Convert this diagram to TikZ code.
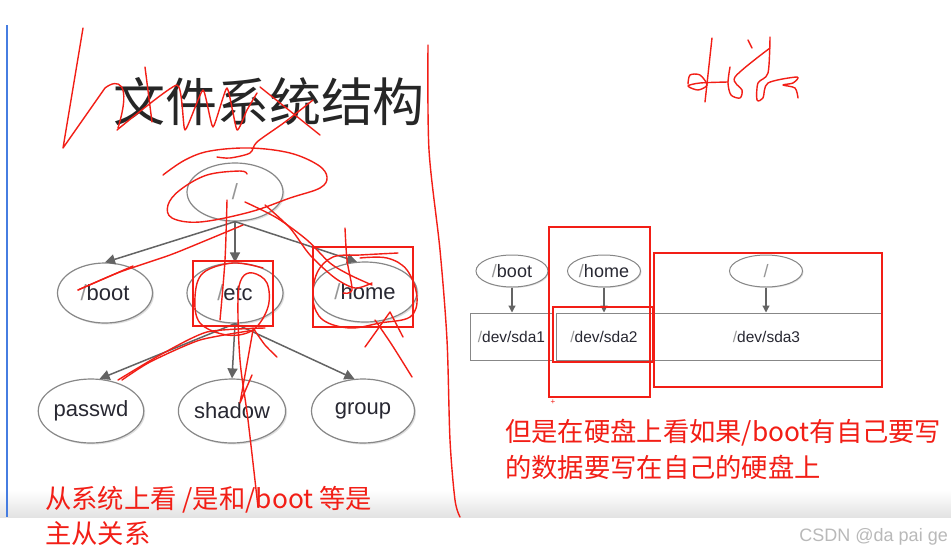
\documentclass[tikz,border=0pt]{standalone}
\usepackage{fontspec}
\setmainfont{Liberation Sans}
\newfontfamily\cjk{Noto Sans CJK SC}
\usetikzlibrary{arrows.meta, shapes.geometric, shadows}

\definecolor{inkred}{RGB}{242,30,22}
\definecolor{edgegray}{RGB}{135,135,135}
\definecolor{arrowgray}{RGB}{100,100,100}
\definecolor{labelgray}{RGB}{40,40,50}
\definecolor{slashgray}{RGB}{150,150,150}
\definecolor{rulerblue}{RGB}{70,125,225}

\newcommand{\dirslash}{{\color{slashgray}/}}

\begin{document}
\begin{tikzpicture}[
    % GLOBAL CFG (one unit = one pixel of the screenshot)
    x=1pt, y=-1pt,
    % Styles
    dir/.style={% For the directory tree
        ellipse,
        draw=edgegray,
        line width=1.2pt,
        fill=white,
        drop shadow={opacity=.25, shadow xshift=1.5pt, shadow yshift=-1.5pt},
        minimum width=96pt,
        minimum height=60pt,
        inner sep=0pt,
        text=labelgray,
        font=\fontsize{22}{22}\selectfont,
        },
    mnt/.style={% For mount points
        ellipse,
        draw=edgegray,
        line width=1pt,
        fill=white,
        drop shadow={opacity=.25, shadow xshift=1pt, shadow yshift=-1pt},
        minimum width=73pt,
        minimum height=32pt,
        inner sep=0pt,
        text=labelgray,
        font=\fontsize{18}{18}\selectfont,
        },
    part/.style={% For partitions
        rectangle,
        draw=edgegray,
        line width=1pt,
        minimum height=47pt,
        inner sep=0pt,
        text=labelgray,
        font=\fontsize{15.5}{15.5}\selectfont,
        },
    link/.style={% tree arrows
        -{Triangle[width=10pt,length=10pt]},
        arrowgray,
        line width=1.5pt,
        },
    linksmall/.style={% mount arrows
        -{Triangle[width=7pt,length=7pt]},
        arrowgray,
        line width=1.2pt,
        },
    ink/.style={% hand drawn red strokes
        inkred,
        line width=1.4pt,
        line cap=round,
        line join=round,
        },
    note/.style={% red comments
        text=inkred,
        anchor=west,
        inner sep=0pt,
        font=\cjk\fontsize{26.3}{26.3}\selectfont,
        },
    ]

    \useasboundingbox (0,0) rectangle (951,555);
    \fill[white] (0,0) rectangle (951,555);

    % bottom band and left rule
    \shade[top color=white, bottom color=gray!22] (0,490) rectangle (951,517);
    \draw[rulerblue, line width=1.5pt] (7,25) -- (7,517);

    % Title
    \node[font=\cjk\fontsize{52}{52}\selectfont, text=black!85] (title) at (269,102) {文件系统结构};

    % Draw the tree
    \node[dir, minimum height=58pt] (root) at (235,192) {\dirslash};
    \node[dir, minimum width=95pt] (boot) at (105,293) {\dirslash boot};
    \node[dir] (etc) at (235,293) {\dirslash etc};
    \node[dir, minimum width=104pt] (home) at (365,292) {\dirslash home};

    \node[dir, minimum width=98pt, minimum height=64pt] (passwd) at (91,411) {passwd};
    \node[dir, minimum width=102pt, minimum height=64pt] (shadow) at (232,411) {shadow};
    \node[dir, minimum width=103pt, minimum height=64pt] (group) at (363,411) {group};

    \draw [link] (root.south) -- (boot.north);
    \draw [link] (root.south) -- (etc.north);
    \draw [link] (root.south) -- (home.105);
    \draw [link] (etc.south) -- (passwd.75);
    \draw [link] (etc.south) -- (shadow.north);
    \draw [link] (etc.south) -- (group.105);

    % Draw the disk
    \node[mnt, minimum width=72pt] (mboot) at (512,271) {\dirslash boot};
    \node[mnt] (mhome) at (604,271) {\dirslash home};
    \node[mnt] (mroot) at (766,271) {\dirslash};

    \node[part, minimum width=83pt] (sda1) at (511.5,336.5) {\dirslash dev/sda1};
    \node[part, minimum width=96pt] (sda2) at (604,336.5) {\dirslash dev/sda2};
    \node[part, minimum width=229pt] (sda3) at (766.5,336.5) {\dirslash dev/sda3};

    \draw [linksmall] (mboot) -- (mboot |- sda1.north);
    \draw [linksmall] (mhome) -- (mhome |- sda2.north);
    \draw [linksmall] (mroot) -- (mroot |- sda3.north);

    % red boxes
    \draw[inkred, line width=1.5pt] (193,261) rectangle (273,326);
    \draw[inkred, line width=1.5pt] (313,247) rectangle (413,327);
    \draw[inkred, line width=1.5pt] (549,227) rectangle (650,397);
    \draw[inkred, line width=1.5pt] (553,307) rectangle (653,362);
    \draw[inkred, line width=1.5pt] (654,253) rectangle (882,387);
    \node[text=inkred, font=\fontsize{8}{8}\selectfont, inner sep=0pt] (plus) at (553,402) {+};

    % red comments
    \node[note] (leftnote1) at (45,500) {从系统上看 /是和/boot 等是};
    \node[note] (leftnote2) at (45,534) {主从关系};
    \node[note] (rightnote1) at (505,433) {但是在硬盘上看如果/boot有自己要写};
    \node[note] (rightnote2) at (505,467) {的数据要写在自己的硬盘上};

    \node[anchor=east, text=gray!55, font=\fontsize{18}{18}\selectfont, inner sep=0pt] (mark) at (948,537) {CSDN @da pai ge};

    % Hand drawn strokes
    % divider
    \draw[ink] plot[smooth, tension=.5] coordinates {(428,45) (429,150) (440,250) (447,340) (450,440) (455,500) (460,517)};
    % "Linux"
    \draw[ink] (83,28) -- (63,148) -- (105,88) .. controls (118,78) and (132,82) .. (118,128);
    \draw[ink] (145,67) -- (152,122);
    \draw[ink] plot[smooth, tension=.3] coordinates {(117,130) (177,85) (185,130) (203,90) (213,127) (227,88) (237,130) (247,110) (257,93)};
    \draw[ink] (260,87) -- (320,135);
    \draw[ink] plot[smooth, tension=.5] coordinates {(313,100) (285,122) (257,142) (250,153) (230,158) (217,157)};
    % round the root
    \draw[ink] plot[smooth, tension=.6] coordinates {(163,175) (185,160) (210,151) (250,148) (290,153) (318,165) (327,177) (320,188) (290,198) (250,212) (200,222) (172,218) (168,205) (180,190) (207,175) (240,171) (247,174)};
    % root to boot
    \draw[ink] (78,290) -- (133,266);
    \draw[ink] plot[smooth, tension=.4] coordinates {(78,290) (120,272) (170,255) (207,240) (243,225)};
    % root to home
    \draw[ink] plot[smooth, tension=.5] coordinates {(245,202) (277,218) (307,240) (330,263) (350,275) (372,285)};
    \draw[ink] plot[smooth, tension=.5] coordinates {(265,205) (290,228) (310,255) (335,278) (355,288) (372,283)};
    \draw[ink] plot[smooth, tension=.5] coordinates {(345,228) (347,260) (352,290) (343,293)};
    \draw[ink] plot[smooth, tension=.6] coordinates {(398,253) (360,255) (333,257) (317,273) (313,300) (323,320) (350,328) (380,323) (410,317) (417,297) (407,270) (387,258) (360,258)};
    \draw[ink] (365,347) -- (390,312) -- (403,337);
    \draw[ink] plot[smooth, tension=.5] coordinates {(375,320) (392,345) (412,377)};
    % etc
    \draw[ink] plot[smooth, tension=.5] coordinates {(227,200) (225,260) (220,320)};
    \draw[ink] plot[smooth, tension=.6] coordinates {(263,268) (233,263) (203,273) (195,297) (200,323) (227,335) (253,330) (268,307) (267,283) (253,273) (242,278) (238,300) (240,360) (248,420) (258,507)};
    \draw[ink] plot[smooth, tension=.4] coordinates {(265,328) (207,332) (160,355) (118,380)};
    \draw[ink] plot[smooth, tension=.4] coordinates {(255,330) (200,340) (150,362) (122,380)};
    \draw[ink] plot[smooth, tension=.4] coordinates {(253,328) (265,345) (277,357)};
    \draw[ink] (253,330) -- (240,403) -- (252,375);
    % "gua zai"
    \draw[ink] (712,38) -- (705,102);
    \draw[ink] plot[smooth, tension=.5] coordinates {(688,84) (690,75) (700,75) (707,85) (698,90) (688,86) (700,83) (728,82)};
    \draw[ink] plot[smooth, tension=.5] coordinates {(730,67) (728,83) (731,95) (740,98) (742,90) (735,77) (770,48)};
    \draw[ink] (748,40) -- (752,48);
    \draw[ink] plot[smooth, tension=.5] coordinates {(770,37) (768,73) (758,83) (757,100) (763,98) (768,83) (797,77) (793,83) (783,85) (795,88) (798,98)};

\end{tikzpicture}
\end{document}
